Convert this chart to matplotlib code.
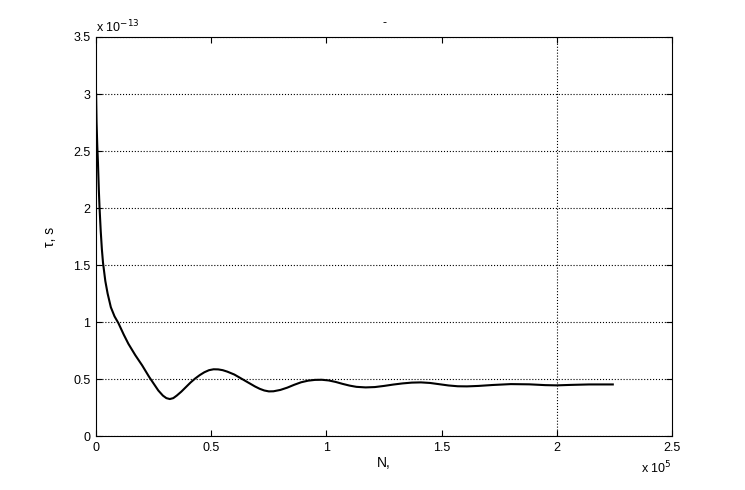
import numpy as np
import matplotlib.pyplot as plt
from matplotlib.ticker import FixedLocator

# N in units of 1e5, tau in units of 1e-13 s
n_vals = [0, 0.002, 0.005, 0.008, 0.012, 0.015, 0.02, 0.025, 0.03, 0.04,
          0.05, 0.064, 0.08, 0.097, 0.12, 0.14, 0.17, 0.2, 0.23, 0.25,
          0.27, 0.29, 0.305, 0.32, 0.335, 0.35, 0.37, 0.39, 0.41, 0.43,
          0.45, 0.47, 0.49, 0.51, 0.53, 0.55, 0.57, 0.60, 0.63, 0.66,
          0.69, 0.71, 0.73, 0.75, 0.77, 0.80, 0.83, 0.86, 0.89, 0.92,
          0.95, 0.98, 1.01, 1.04, 1.07, 1.10, 1.13, 1.17, 1.21, 1.25,
          1.29, 1.33, 1.37, 1.41, 1.45, 1.49, 1.53, 1.57, 1.61, 1.66,
          1.72, 1.80, 1.88, 1.95, 2.00, 2.06, 2.14, 2.243]
tau_vals = [3.0, 2.75, 2.55, 2.40, 2.15, 2.0, 1.80, 1.64, 1.52, 1.36,
            1.25, 1.13, 1.05, 0.99, 0.89, 0.81, 0.71, 0.62, 0.52, 0.46,
            0.40, 0.355, 0.333, 0.325, 0.333, 0.355, 0.39, 0.43, 0.47, 0.505,
            0.535, 0.56, 0.578, 0.586, 0.585, 0.578, 0.565, 0.54, 0.505, 0.47,
            0.435, 0.415, 0.40, 0.392, 0.393, 0.405, 0.425, 0.45, 0.472, 0.486,
            0.493, 0.494, 0.488, 0.475, 0.458, 0.443, 0.432, 0.427, 0.43, 0.44,
            0.452, 0.462, 0.469, 0.471, 0.466, 0.455, 0.444, 0.437, 0.436, 0.44,
            0.448, 0.456, 0.454, 0.447, 0.445, 0.449, 0.453, 0.453]
xticks = [0, 0.5, 1, 1.5, 2, 2.5]
yticks = [0, 0.5, 1, 1.5, 2, 2.5, 3, 3.5]
xtick_labels = ["0", "0.5", "1", "1.5", "2", "2.5"]
ytick_labels = ["0", "0.5", "1", "1.5", "2", "2.5", "3", "3.5"]

plt.rcParams['font.family'] = ['Liberation Sans', 'DejaVu Sans']

fig = plt.figure(figsize=(7.45, 4.9), dpi=100)
ax = fig.add_axes([0.129, 0.110, 0.773, 0.8145])

ax.plot(n_vals, tau_vals, color="black", linewidth=1.5)

ax.set_xlim(0, 2.5)
ax.set_ylim(0, 3.5)
ax.set_xticks(xticks)
ax.set_xticklabels(xtick_labels)
ax.set_yticks(yticks)
ax.set_yticklabels(ytick_labels)
ax.tick_params(direction="in", top=True, right=True, length=4, labelsize=9,
               width=0.8, pad=4)
# only one vertical grid line (at 2) is visible in the original
ax.xaxis.remove_overlapping_locs = False
ax.xaxis.set_minor_locator(FixedLocator([2]))
ax.tick_params(which="minor", length=0)
ax.grid(True, axis="y", which="major", linestyle=":", color="black", linewidth=0.8)
ax.grid(True, axis="x", which="minor", linestyle=":", color="black", linewidth=0.8)
for s in ax.spines.values():
    s.set_linewidth(0.8)

ax.set_title("-", fontsize=9, pad=8)
ax.set_xlabel("N,", fontsize=10, labelpad=2)
ax.set_ylabel("τ, s", fontsize=10, labelpad=12)

ax.text(0.0, 1.005, "x 10$^{-13}$", transform=ax.transAxes, fontsize=9,
        ha="left", va="bottom")
ax.text(1.0, -0.06, "x 10$^{5}$", transform=ax.transAxes, fontsize=9,
        ha="right", va="top")

fig.savefig("out.png", dpi=100)
